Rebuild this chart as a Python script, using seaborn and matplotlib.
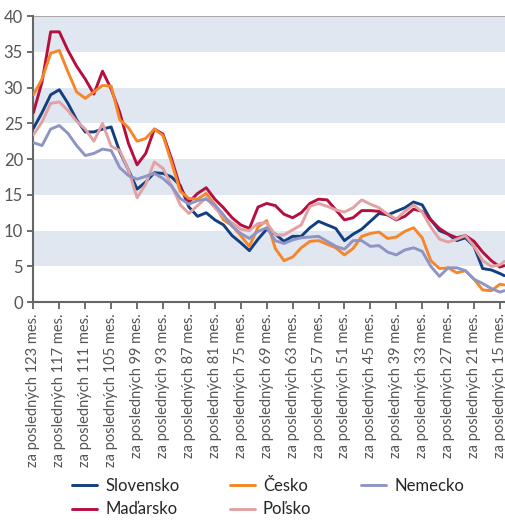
import numpy as np
import pandas as pd
import matplotlib
matplotlib.use('Agg')
import matplotlib.pyplot as plt
import seaborn as sns

# months ("za posledných N mes."), every second month
months = list(range(123, 14, -2)) + [14]

slovensko = [24.3, 26.5, 29.0, 29.7, 27.8, 25.5, 23.8, 23.8, 24.2, 24.5,
             21.0, 18.5, 15.8, 16.8, 18.1, 18.0, 17.5, 16.3, 13.3, 12.0,
             12.5, 11.5, 10.8, 9.3, 8.3, 7.2, 8.8, 10.2, 9.5, 8.5,
             9.2, 9.2, 10.4, 11.3, 10.8, 10.3, 8.6, 9.5, 10.2, 11.3,
             12.4, 12.2, 12.7, 13.2, 14.0, 13.6, 11.5, 10.0, 9.5, 8.6,
             9.0, 7.8, 4.7, 4.5, 4.0, 3.7]
cesko = [29.0, 31.2, 34.8, 35.2, 32.2, 29.4, 28.5, 29.4, 30.3, 30.2,
         25.5, 24.4, 22.5, 22.9, 24.2, 23.3, 19.5, 15.5, 14.5, 14.4,
         15.2, 13.6, 11.5, 10.7, 9.3, 7.8, 10.5, 11.4, 7.5, 5.8,
         6.3, 7.6, 8.5, 8.6, 8.1, 7.6, 6.6, 7.5, 9.2, 9.6,
         9.8, 8.9, 9.1, 9.9, 10.4, 9.0, 5.8, 4.7, 4.8, 4.1,
         4.4, 3.2, 1.7, 1.6, 2.5, 2.4]
nemecko = [22.3, 21.9, 24.2, 24.7, 23.6, 21.9, 20.5, 20.8, 21.4, 21.2,
           18.8, 17.7, 17.2, 17.6, 18.0, 17.3, 16.2, 14.5, 13.7, 14.2,
           14.4, 13.6, 12.2, 10.6, 9.6, 8.9, 9.9, 10.4, 8.6, 8.2,
           8.7, 9.0, 9.1, 9.2, 8.5, 7.8, 7.4, 8.6, 8.6, 7.8,
           7.9, 7.0, 6.6, 7.3, 7.6, 7.1, 5.0, 3.6, 4.8, 4.8,
           4.4, 3.2, 2.6, 1.9, 1.4, 1.6]
madarsko = [26.5, 30.8, 37.8, 37.8, 35.2, 33.0, 31.2, 29.1, 32.3, 29.8,
            26.5, 22.2, 19.2, 20.8, 24.2, 23.5, 20.0, 16.0, 14.0, 15.2,
            16.0, 14.4, 13.2, 11.8, 10.8, 10.3, 13.3, 13.8, 13.5, 12.3,
            11.8, 12.5, 13.8, 14.4, 14.3, 12.9, 11.5, 11.8, 12.8, 12.8,
            12.7, 12.2, 11.5, 12.0, 13.0, 12.7, 11.5, 10.3, 9.5, 9.0,
            9.3, 8.5, 7.0, 5.8, 4.9, 5.1]
polsko = [23.4, 25.2, 27.8, 28.0, 26.8, 25.3, 24.2, 22.5, 25.0, 21.8,
          21.2, 18.5, 14.6, 16.5, 19.6, 18.7, 16.3, 13.6, 12.4, 13.5,
          14.6, 13.2, 11.9, 11.1, 10.2, 10.0, 11.0, 11.1, 9.4, 9.4,
          10.1, 10.8, 13.4, 13.8, 13.4, 12.9, 12.6, 13.2, 14.3, 13.7,
          13.2, 12.3, 11.6, 12.7, 13.6, 12.6, 10.5, 8.8, 8.4, 8.8,
          9.3, 7.8, 5.8, 5.0, 5.2, 5.7]

tick_months = list(range(123, 14, -6))
tick_labels = [f'za posledných {m} mes.' for m in tick_months]

# order chosen so that a 3-column legend fills like the original
series = {
    'Slovensko': slovensko,
    'Maďarsko': madarsko,
    'Česko': cesko,
    'Poľsko': polsko,
    'Nemecko': nemecko,
}
colors = {
    'Slovensko': '#123f7f',
    'Maďarsko': '#b50f3f',
    'Česko': '#f5862a',
    'Poľsko': '#e2a1a3',
    'Nemecko': '#8e95c4',
}

df = pd.concat([pd.DataFrame({'mes': months, 'hodnota': v, 'krajina': k})
                for k, v in series.items()], ignore_index=True)

sns.set_style('white')
plt.rcParams['font.family'] = ['Lato', 'DejaVu Sans']

fig = plt.figure(figsize=(5.06, 5.20), dpi=100)
ax = fig.add_axes([0.066, 0.419, 0.934, 0.55])

# alternating background bands
for lo in (5, 15, 25, 35):
    ax.axhspan(lo, lo + 5, color='#e1e7f1', lw=0, zorder=0)
ax.axhline(40, color='#aaaaaa', lw=1.5, zorder=1)

sns.lineplot(data=df, x='mes', y='hodnota', hue='krajina', palette=colors,
             hue_order=list(series.keys()), linewidth=2.1, ax=ax, zorder=3)

ax.set_xlim(123, 13.6)
ax.set_ylim(0, 40)
ax.set_yticks(range(0, 41, 5))
ax.set_xticks(tick_months)
ax.set_xticklabels(tick_labels, rotation=90, fontsize=10.5, color='#555555')
ax.tick_params(axis='y', labelsize=12, colors='#555555', length=4,
               direction='out', left=True, width=1.2)
ax.tick_params(axis='x', length=5, direction='out', bottom=True, width=1.2,
               color='#555555', pad=3)
ax.set_xlabel('')
ax.set_ylabel('')
for s in ('top', 'right'):
    ax.spines[s].set_visible(False)
for s in ('left', 'bottom'):
    ax.spines[s].set_color('#666666')
    ax.spines[s].set_linewidth(1.5)

handles, labels = ax.get_legend_handles_labels()
ax.get_legend().remove()
fig.legend(handles, labels, ncol=3, frameon=False, fontsize=12,
           loc='upper left', bbox_to_anchor=(72 / 506, 1 - 478 / 520),
           bbox_transform=fig.transFigure, borderaxespad=0, borderpad=0,
           handlelength=1.5, columnspacing=3.0, labelspacing=0.45,
           handletextpad=0.5)

fig.savefig('out.png', dpi=100)
